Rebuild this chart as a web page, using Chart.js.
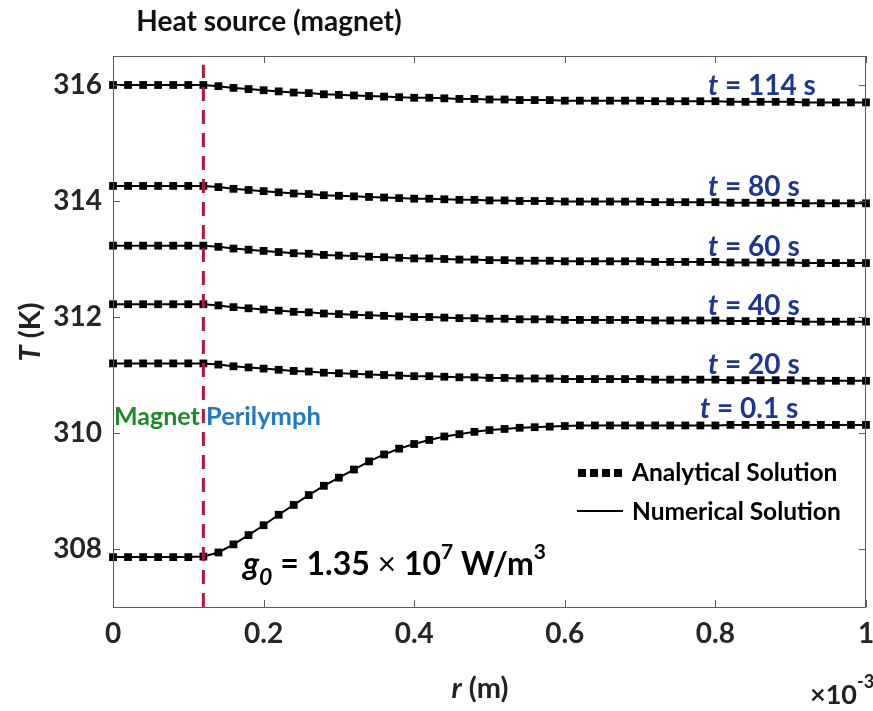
<!DOCTYPE html>
<html>
<head>
<meta charset="utf-8">
<script src="https://cdn.jsdelivr.net/npm/chart.js@4.4.0/dist/chart.umd.min.js"></script>
<style>
  html, body { margin: 0; padding: 0; background: #fff; }
</style>
</head>
<body>
<canvas id="temps" width="873" height="711"></canvas>
<script>
// radial position, in mm (axis shows r in m with a x10^-3 multiplier)
const radius = [0, 0.02, 0.04, 0.06, 0.08, 0.1, 0.12, 0.14, 0.16, 0.18, 0.2, 0.22, 0.24, 0.26, 0.28, 0.3,
  0.32, 0.34, 0.36, 0.38, 0.4, 0.42, 0.44, 0.46, 0.48, 0.5, 0.52, 0.54, 0.56, 0.58, 0.6, 0.62, 0.64, 0.66,
  0.68, 0.7, 0.72, 0.74, 0.76, 0.78, 0.8, 0.82, 0.84, 0.86, 0.88, 0.9, 0.92, 0.94, 0.96, 0.98, 1.0];

// temperature profiles (K) at each time
const temp114 = [316.00, 316.00, 316.00, 316.00, 316.00, 316.00, 316.00,
  315.98, 315.95, 315.93, 315.91, 315.89, 315.87, 315.86, 315.84, 315.83, 315.82, 315.81, 315.80,
  315.79, 315.78, 315.78, 315.77, 315.76, 315.76, 315.75, 315.75, 315.74, 315.74, 315.74, 315.73,
  315.73, 315.73, 315.73, 315.73, 315.73, 315.72, 315.72, 315.72, 315.72, 315.72,
  315.71, 315.71, 315.71, 315.71, 315.71, 315.70, 315.70, 315.70, 315.70, 315.70];
const temp80 = [314.26, 314.26, 314.26, 314.26, 314.26, 314.26, 314.26,
  314.24, 314.21, 314.19, 314.17, 314.15, 314.13, 314.12, 314.10, 314.09, 314.08, 314.07, 314.06,
  314.05, 314.04, 314.04, 314.03, 314.02, 314.02, 314.01, 314.01, 314.00, 314.00, 314.00, 313.99,
  313.99, 313.99, 313.99, 313.99, 313.99, 313.98, 313.98, 313.98, 313.98, 313.98,
  313.97, 313.97, 313.97, 313.97, 313.97, 313.96, 313.96, 313.96, 313.96, 313.96];
const temp60 = [313.23, 313.23, 313.23, 313.23, 313.23, 313.23, 313.23,
  313.21, 313.18, 313.16, 313.14, 313.12, 313.10, 313.09, 313.07, 313.06, 313.05, 313.04, 313.03,
  313.02, 313.01, 313.01, 313.00, 312.99, 312.99, 312.98, 312.98, 312.97, 312.97, 312.97, 312.96,
  312.96, 312.96, 312.96, 312.96, 312.96, 312.95, 312.95, 312.95, 312.95, 312.95,
  312.94, 312.94, 312.94, 312.94, 312.94, 312.93, 312.93, 312.93, 312.93, 312.93];
const temp40 = [312.22, 312.22, 312.22, 312.22, 312.22, 312.22, 312.22,
  312.20, 312.17, 312.15, 312.13, 312.11, 312.09, 312.08, 312.06, 312.05, 312.04, 312.03, 312.02,
  312.01, 312.00, 312.00, 311.99, 311.98, 311.98, 311.97, 311.97, 311.96, 311.96, 311.96, 311.95,
  311.95, 311.95, 311.95, 311.95, 311.95, 311.94, 311.94, 311.94, 311.94, 311.94,
  311.93, 311.93, 311.93, 311.93, 311.93, 311.92, 311.92, 311.92, 311.92, 311.92];
const temp20 = [311.20, 311.20, 311.20, 311.20, 311.20, 311.20, 311.20,
  311.18, 311.15, 311.13, 311.11, 311.09, 311.07, 311.06, 311.04, 311.03, 311.02, 311.01, 311.00,
  310.99, 310.98, 310.98, 310.97, 310.96, 310.96, 310.95, 310.95, 310.94, 310.94, 310.94, 310.93,
  310.93, 310.93, 310.93, 310.93, 310.93, 310.92, 310.92, 310.92, 310.92, 310.92,
  310.91, 310.91, 310.91, 310.91, 310.91, 310.90, 310.90, 310.90, 310.90, 310.90];
const temp01 = [307.86, 307.86, 307.86, 307.86, 307.86, 307.86, 307.87,
  307.94, 308.08, 308.24, 308.41, 308.59, 308.76, 308.93, 309.09, 309.23, 309.37, 309.51, 309.63,
  309.73, 309.81, 309.88, 309.94, 309.98, 310.02, 310.05, 310.07, 310.09, 310.10, 310.11, 310.12,
  310.13, 310.13, 310.13, 310.13, 310.13, 310.13, 310.13, 310.13, 310.13, 310.13,
  310.14, 310.14, 310.14, 310.14, 310.14, 310.14, 310.14, 310.14, 310.14, 310.14];

const profiles = [temp114, temp80, temp60, temp40, temp20, temp01];
const timeLabels = ['114', '80', '60', '40', '20', '0.1'];
const xTicks = [0, 0.2, 0.4, 0.6, 0.8, 1];
const yTicks = [308, 310, 312, 314, 316];
const magnetEdge = 0.12; // mm, magnet / perilymph boundary

const FONT = 'Lato, "Open Sans", sans-serif';
const AXIS_GREY = '#5a5a5a';
const BLUE = '#1f3691';

const datasets = [];
// heat source boundary, drawn over the curves
datasets.push({
  label: 'boundary',
  data: [{ x: magnetEdge, y: 307 }, { x: magnetEdge, y: 316.35 }],
  borderColor: '#b3173a', borderWidth: 3, borderDash: [14, 9],
  pointRadius: 0, order: 0
});
profiles.forEach((vals, i) => {
  const pts = radius.map((r, k) => ({ x: r, y: vals[k] }));
  datasets.push({
    label: 'Numerical t=' + timeLabels[i],
    data: pts, borderColor: '#000', borderWidth: 2, pointRadius: 0, order: 2
  });
  datasets.push({
    label: 'Analytical t=' + timeLabels[i],
    data: pts, showLine: false, pointStyle: 'rect', pointRadius: 5.5,
    pointBackgroundColor: '#000', pointBorderWidth: 0, clip: false, order: 1
  });
});

// draw a row of text pieces with their own fonts / offsets
function drawRuns(ctx, x, y, runs, align) {
  let total = 0;
  runs.forEach(r => { ctx.font = r.font; r.w = ctx.measureText(r.t).width; total += r.w; });
  let cx = align === 'center' ? x - total / 2 : x;
  runs.forEach(r => {
    ctx.font = r.font;
    ctx.fillStyle = r.color || '#000';
    ctx.fillText(r.t, cx, y + (r.dy || 0));
    cx += r.w;
  });
}

const decorations = {
  id: 'decorations',
  afterDraw(chart) {
    const { ctx, chartArea: a, scales: { x, y } } = chart;
    ctx.save();

    // box with inward ticks on all four sides
    ctx.strokeStyle = AXIS_GREY;
    ctx.lineWidth = 1;
    ctx.strokeRect(a.left + 0.5, a.top + 0.5, a.right - a.left - 1, a.bottom - a.top);
    ctx.beginPath();
    xTicks.forEach(v => {
      const px = Math.round(x.getPixelForValue(v)) + 0.5;
      ctx.moveTo(px, a.bottom); ctx.lineTo(px, a.bottom - 7);
      ctx.moveTo(px, a.top); ctx.lineTo(px, a.top + 7);
    });
    yTicks.forEach(v => {
      const py = Math.round(y.getPixelForValue(v)) + 0.5;
      ctx.moveTo(a.left, py); ctx.lineTo(a.left + 7, py);
      ctx.moveTo(a.right, py); ctx.lineTo(a.right - 7, py);
    });
    ctx.stroke();

    ctx.textBaseline = 'alphabetic';
    ctx.textAlign = 'left';

    drawRuns(ctx, 269, 31, [{ t: 'Heat source (magnet)', font: 'bold 28px ' + FONT, color: '#111' }], 'center');

    // axis titles
    drawRuns(ctx, 480, 698, [
      { t: 'r', font: 'italic bold 29px ' + FONT, color: '#222' },
      { t: ' (m)', font: 'bold 29px ' + FONT, color: '#222' }
    ], 'center');
    drawRuns(ctx, 810, 704, [
      { t: '\u00d710', font: 'bold 27px ' + FONT, color: '#222' },
      { t: '-3', font: 'bold 18px ' + FONT, color: '#222', dy: -16 }
    ]);
    ctx.save();
    ctx.translate(40, 332);
    ctx.rotate(-Math.PI / 2);
    drawRuns(ctx, 0, 0, [
      { t: 'T', font: 'italic bold 29px ' + FONT, color: '#222' },
      { t: ' (K)', font: 'bold 29px ' + FONT, color: '#222' }
    ], 'center');
    ctx.restore();

    // time labels sit just above the right end of each profile
    profiles.forEach((vals, i) => {
      const py = y.getPixelForValue(vals[vals.length - 1]) - 7;
      const px = timeLabels[i] === '0.1' ? 700 : 708;
      drawRuns(ctx, px, py, [
        { t: 't', font: 'italic bold 28px ' + FONT, color: BLUE },
        { t: ' = ' + timeLabels[i] + ' s', font: 'bold 28px ' + FONT, color: BLUE }
      ]);
    });

    // region names either side of the boundary
    drawRuns(ctx, 114, 425, [{ t: 'Magnet', font: 'bold 25px ' + FONT, color: '#1e8a2a' }]);
    drawRuns(ctx, 206, 425, [{ t: 'Perilymph', font: 'bold 25.5px ' + FONT, color: '#1f78c4' }]);

    // volumetric heat generation
    drawRuns(ctx, 243, 575, [
      { t: 'g', font: 'italic bold 32px ' + FONT },
      { t: '0', font: 'italic bold 23px ' + FONT, dy: 10 },
      { t: ' = 1.35 ', font: 'bold 32px ' + FONT },
      { t: '\u00d7', font: '32px ' + FONT },
      { t: ' 10', font: 'bold 32px ' + FONT },
      { t: '7', font: 'bold 21px ' + FONT, dy: -16 },
      { t: ' W/m', font: 'bold 32px ' + FONT },
      { t: '3', font: 'bold 21px ' + FONT, dy: -16 }
    ]);

    // legend
    ctx.fillStyle = '#000';
    [582, 594, 606, 618].forEach(cx => ctx.fillRect(cx - 4, 469, 8, 8));
    ctx.strokeStyle = '#000';
    ctx.lineWidth = 2;
    ctx.beginPath(); ctx.moveTo(577, 511); ctx.lineTo(623, 511); ctx.stroke();
    drawRuns(ctx, 632, 481, [{ t: 'Analytical Solution', font: 'bold 24.5px ' + FONT }]);
    drawRuns(ctx, 632, 520, [{ t: 'Numerical Solution', font: 'bold 24.5px ' + FONT }]);

    ctx.restore();
  }
};

new Chart(document.getElementById('temps'), {
  type: 'line',
  data: { datasets },
  options: {
    responsive: false,
    animation: false,
    devicePixelRatio: 1,
    layout: { padding: { top: 56, right: 7, left: 0, bottom: 0 } },
    plugins: { legend: { display: false }, tooltip: { enabled: false } },
    scales: {
      x: {
        type: 'linear', min: 0, max: 1,
        afterFit: s => { s.height = 104; s.paddingLeft = 0; s.paddingRight = 0; },
        afterBuildTicks: s => { s.ticks = xTicks.map(v => ({ value: v })); },
        grid: { display: false, drawTicks: false },
        border: { display: false },
        ticks: {
          padding: 10, maxRotation: 0, color: '#262626',
          font: { family: FONT, size: 28, weight: 'bold' },
          callback: v => String(v)
        }
      },
      y: {
        type: 'linear', min: 307, max: 316.5,
        afterFit: s => { s.width = 113; s.paddingTop = 0; s.paddingBottom = 0; },
        afterBuildTicks: s => { s.ticks = yTicks.map(v => ({ value: v })); },
        grid: { display: false, drawTicks: false },
        border: { display: false },
        ticks: {
          padding: 11, color: '#262626',
          font: { family: FONT, size: 28, weight: 'bold' },
          callback: v => String(v)
        }
      }
    }
  },
  plugins: [decorations]
});
</script>
</body>
</html>
